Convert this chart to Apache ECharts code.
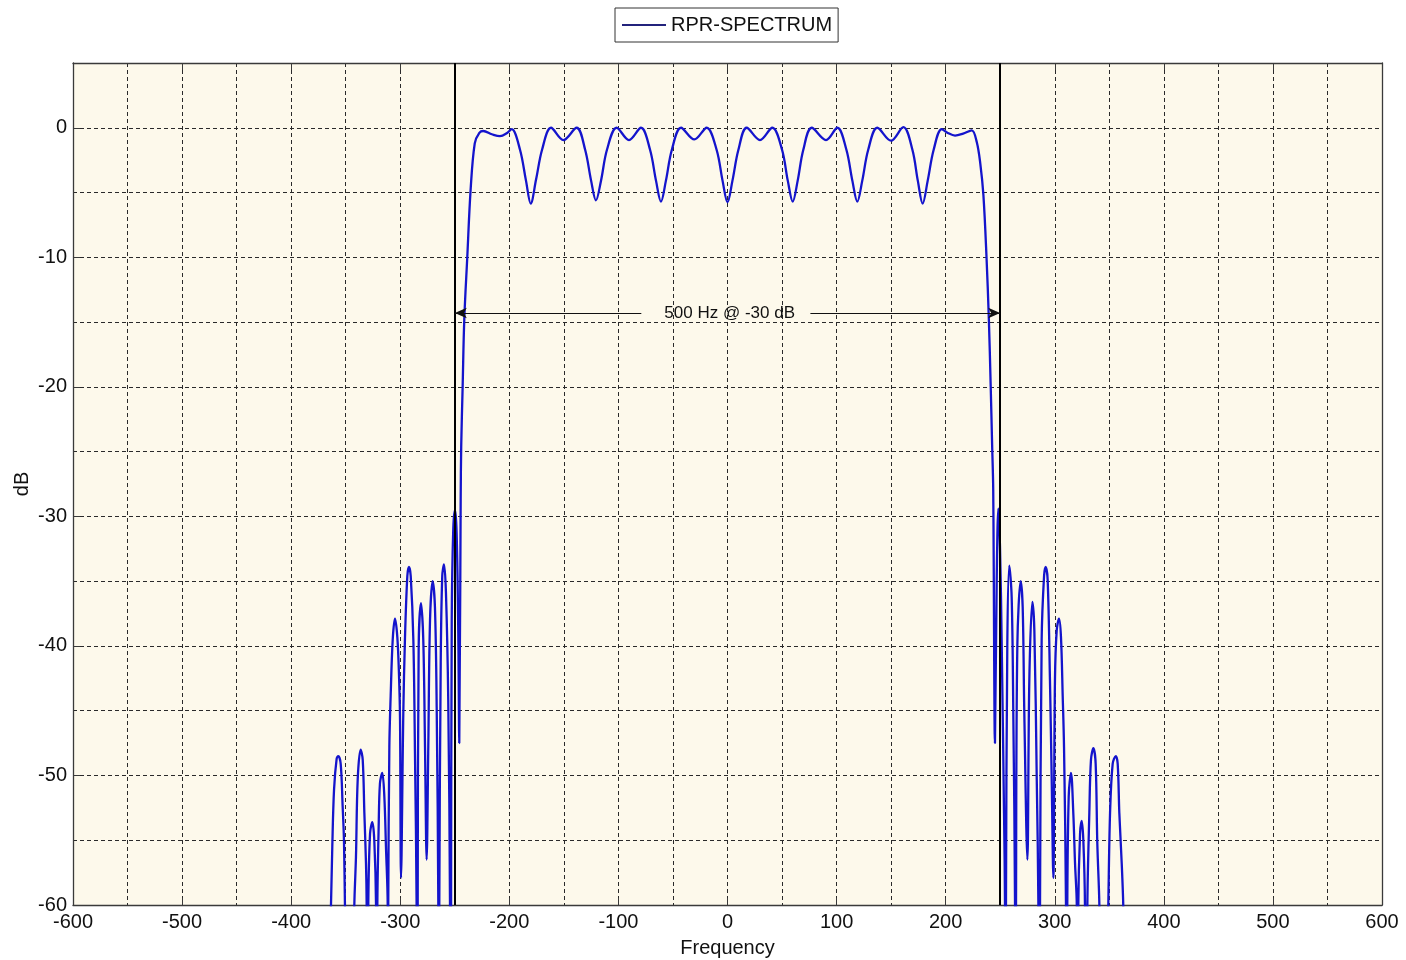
<!DOCTYPE html>
<html>
<head>
<meta charset="utf-8">
<title>RPR-SPECTRUM</title>
<script src="https://cdn.jsdelivr.net/npm/echarts@6/dist/echarts.min.js"></script>
<style>
  html, body { margin: 0; padding: 0; background: #ffffff; }
  #chart { width: 1406px; height: 960px; }
</style>
</head>
<body>
<div id="chart"></div>
<script>
// values (Hz, dB); nulls that drop under -60 are given as -80
var leftSkirtHz = [-370, -363.5, -362.3, -360.7, -358.3, -356.8, -354.6, -352.8, -351.6, -350.7, -346.4,
    -342.1, -340.6, -339, -336.3, -334.4, -332.9, -331.4, -330.8, -330,
    -329.3, -327.7, -325.6, -323.8, -322.2, -321.6,
    -321, -319.8, -318.6, -316.5, -314.6, -313.1, -311.5, -311.25,
    -311, -310, -308.8, -306.9, -304.8, -302.7, -301.2, -300.2, -299.3,
    -297.2, -295.7, -293.5, -292, -290.4, -288, -286.5, -285, -284.5,
    -284, -283.1, -281, -278.9, -277.3, -275.8,
    -274.3, -272.7, -270.3, -268.2, -266.6, -265.1, -264.6,
    -264.2, -262.9, -261.5, -259.9, -258.1, -256, -254.4, -253.9,
    -253.4, -252.8, -251.4, -249.8, -248.3, -246.8, -245.9];
var leftSkirtDb = [-80, -60, -55.5, -51.1, -48.7, -48.5, -49.1, -52.4, -55, -60, -80,
    -60, -56.3, -50.3, -48.0, -48.8, -52.9, -56.8, -60, -75,
    -60, -54.5, -53.6, -55, -60, -75,
    -60, -54, -50.6, -49.8, -51.6, -55.5, -60, -70,
    -60, -47.8, -43.9, -39.5, -37.9, -39.3, -42.1, -45.7, -57.9,
    -45.2, -39.5, -34.6, -33.9, -34.6, -39.5, -48.3, -60, -80,
    -60, -40, -36.7, -39.5, -47.8, -56.5,
    -47.8, -38, -35.0, -37, -44.7, -60, -80,
    -60, -41.3, -34.6, -33.7, -35.9, -44.2, -60, -80,
    -60, -38, -31, -29.5, -31.3, -39, -47.5];

var passHz = [-244.6, -244.1, -242.8, -241.3, -238.5, -235.5, -231.7, -227.5,
    -223.9, -216, -208.6, -202, -197.8, -190.2, -184.7, -180.4, -175.5, -170,
    -161.8, -150.5, -138.3, -130.5, -125, -120.6, -116, -110.5,
    -101.6, -90.3, -79.3, -71, -65.5, -61, -56.5, -51,
    -42.6, -30.4, -19.1, -10, -4.5, 0, 4.5, 10,
    17.6, 29.8, 41.1, 50, 55.3, 59.8, 64.3, 69.5,
    77.2, 90.3, 100.7, 109, 114.5, 119, 123.5, 129,
    137.3, 149.9, 161.2, 169.5, 174.5, 178.9, 183.5, 189,
    196.4, 202, 208.6, 216, 223.9,
    228.5, 231.8, 234.6, 237.4, 239.6, 241.3, 242.6, 243.6];
var passDb = [-28.7, -24.5, -20, -14.8, -9.9, -4.8, -1.2, -0.4,
    -0.25, -0.5, -0.65, -0.4, -0.1, -1.7, -4.1, -5.85, -4.0, -1.7,
    0, -0.95, 0, -1.7, -4.1, -5.6, -4.1, -1.7,
    0, -0.95, 0, -1.7, -4.1, -5.7, -4.1, -1.7,
    0, -0.9, 0, -1.7, -4.1, -5.75, -4.1, -1.7,
    0, -0.95, 0, -1.7, -4.1, -5.7, -4.1, -1.7,
    0, -0.95, 0, -1.7, -4.1, -5.7, -4.1, -1.7,
    0, -1.0, 0.05, -1.7, -4.1, -5.85, -4.1, -1.7,
    -0.1, -0.4, -0.6, -0.45, -0.2,
    -1.1, -2.8, -5.2, -9.9, -14.8, -20, -24.5, -28];

var rightSkirtHz = [245.2, 246.8, 248.3, 249.8, 251.4, 253.5, 254.4, 254.9,
    255.3, 256.5, 258.3, 260.5, 262, 263.6, 264,
    264.5, 265.7, 268.8, 270.6, 272.1, 274.9,
    276.7, 279.5, 281.3, 283.5, 285, 285.7,
    286.5, 288, 290.2, 291.7, 293.5, 295.6, 297.2, 298.7,
    300.2, 301.8, 303.9, 305.7, 307.3, 308.5, 310.3, 310.9,
    311.5, 312.8, 314.9, 317, 318.6, 320.2, 320.9,
    321.6, 323.2, 324.7, 326.2, 327.7, 328.8,
    329.9, 331.7, 333.2, 335.4, 337.5, 339, 340.9, 345,
    349.1, 350.7, 353.1, 355.9, 357.7, 359.2, 361.4, 362.8, 368];
var rightSkirtDb = [-47.5, -34.9, -29.4, -32.3, -40, -52.9, -60, -80,
    -60, -40, -33.8, -36.2, -45.2, -60, -80,
    -60, -40, -35.0, -37, -45.2, -56.5,
    -42.6, -36.6, -38.8, -50.3, -60, -80,
    -60, -39.5, -34.6, -33.9, -34.9, -42.6, -50.3, -57.9,
    -42.6, -38.8, -37.9, -39.3, -43.9, -47.8, -60, -80,
    -60, -51.6, -49.8, -52.9, -56.8, -60, -80,
    -60, -54.5, -53.5, -55, -60, -80,
    -60, -52.9, -48.8, -47.9, -49.1, -55.2, -60, -80,
    -60, -52.9, -49.1, -48.5, -49.1, -52.9, -56.8, -60, -80];

var edgeHz = [-250, 250];          // the two black limit lines
var arrowDb = -14.3;               // height of the width arrow
var arrowGapHz = [-79, 76];        // where the arrow is broken for its text
var widthText = '500 Hz @ -30 dB';

var fontName = '"Liberation Sans", Arial, sans-serif';
var curveColor = '#1414cc';
var dash = [4, 3];

var allHz = leftSkirtHz.concat(passHz, rightSkirtHz);
var allDb = leftSkirtDb.concat(passDb, rightSkirtDb);
var spectrum = [];
for (var i = 0; i < allHz.length; i++) {
    spectrum.push([allHz[i], allDb[i]]);
}

var myChart = echarts.init(document.getElementById('chart'), null, {renderer: 'canvas'});

option = {
    animation: false,
    backgroundColor: '#ffffff',
    textStyle: {fontFamily: fontName},
    legend: {
        top: 8,
        left: 615,
        padding: [7, 6, 7, 7],
        backgroundColor: '#ffffff',
        borderColor: '#333333',
        borderWidth: 1,
        borderRadius: 0,
        icon: 'rect',
        itemWidth: 44,
        itemHeight: 2,
        itemStyle: {color: '#23237c'},
        textStyle: {fontSize: 20, color: '#111111', fontFamily: fontName},
        data: ['RPR-SPECTRUM']
    },
    grid: {
        left: 73,
        right: 24,
        top: 63,
        bottom: 55,
        show: true,
        backgroundColor: '#fdf9eb',
        borderWidth: 0,
        containLabel: false,
        outerBoundsMode: 'none'
    },
    xAxis: [
        {
            type: 'value',
            min: -600,
            max: 600,
            interval: 100,
            name: 'Frequency',
            nameLocation: 'middle',
            nameGap: 33,
            nameTextStyle: {fontSize: 20, color: '#111111', fontFamily: fontName},
            axisLine: {show: true, onZero: false, lineStyle: {color: '#3a3a3a', width: 1.3}},
            axisTick: {show: true, inside: true, length: 7, lineStyle: {color: '#3a3a3a'}},
            axisLabel: {fontSize: 20, color: '#111111', margin: 7, fontFamily: fontName},
            splitLine: {show: true, lineStyle: {color: '#2a2a2a', width: 1, type: dash}},
            minorTick: {show: false, splitNumber: 2},
            minorSplitLine: {show: true, lineStyle: {color: '#2a2a2a', width: 1, type: dash}}
        },
        {
            type: 'value',
            position: 'top',
            min: -600,
            max: 600,
            interval: 100,
            axisLine: {show: true, onZero: false, lineStyle: {color: '#3a3a3a', width: 1.3}},
            axisTick: {show: true, inside: true, length: 7, lineStyle: {color: '#3a3a3a'}},
            axisLabel: {show: false},
            splitLine: {show: false}
        }
    ],
    yAxis: [
        {
            type: 'value',
            min: -60,
            max: 5,
            interval: 10,
            name: 'dB',
            nameLocation: 'middle',
            nameGap: 41,
            nameMoveOverlap: false,
            nameTextStyle: {fontSize: 20, color: '#111111', fontFamily: fontName},
            axisLine: {show: true, onZero: false, lineStyle: {color: '#3a3a3a', width: 1.3}},
            axisTick: {show: true, inside: true, length: 7, lineStyle: {color: '#3a3a3a'}},
            axisLabel: {
                fontSize: 20, color: '#111111', margin: 6, fontFamily: fontName,
                formatter: function (v) {
                    return v % 10 === 0 ? String(v) : '';
                }
            },
            splitLine: {show: false}
        },
        {
            type: 'value',
            position: 'right',
            min: -60,
            max: 5,
            interval: 5,
            axisLine: {show: true, onZero: false, lineStyle: {color: '#3a3a3a', width: 1.3}},
            axisTick: {show: false},
            axisLabel: {show: false},
            splitLine: {show: true, lineStyle: {color: '#2a2a2a', width: 1, type: dash}}
        }
    ],
    series: [
        {
            name: 'RPR-SPECTRUM',
            type: 'line',
            data: spectrum,
            symbol: 'none',
            smooth: 0.35,
            clip: true,
            lineStyle: {color: curveColor, width: 2.3},
            itemStyle: {color: curveColor},
            markLine: {
                silent: true,
                symbol: ['none', 'none'],
                label: {show: false},
                lineStyle: {color: '#000000', width: 2, type: 'solid'},
                data: [
                    {xAxis: edgeHz[0]},
                    {xAxis: edgeHz[1]},
                    [
                        {coord: [edgeHz[0], arrowDb], symbol: 'arrow', symbolSize: [8, 12],
                            lineStyle: {color: '#111111', width: 1, type: 'solid'}},
                        {coord: [arrowGapHz[0], arrowDb], symbol: 'none'}
                    ],
                    [
                        {coord: [arrowGapHz[1], arrowDb], symbol: 'none',
                            lineStyle: {color: '#111111', width: 1, type: 'solid'}},
                        {coord: [edgeHz[1], arrowDb], symbol: 'arrow', symbolSize: [8, 12]}
                    ]
                ]
            },
            markPoint: {
                silent: true,
                symbol: 'rect',
                symbolSize: 1,
                itemStyle: {color: 'rgba(0,0,0,0)'},
                label: {
                    show: true,
                    position: 'inside',
                    color: '#111111',
                    fontSize: 17,
                    fontFamily: fontName,
                    formatter: widthText
                },
                data: [{coord: [2, arrowDb], value: widthText}]
            }
        }
    ]
};

myChart.setOption(option);
window.onresize = myChart.resize;
</script>
</body>
</html>
